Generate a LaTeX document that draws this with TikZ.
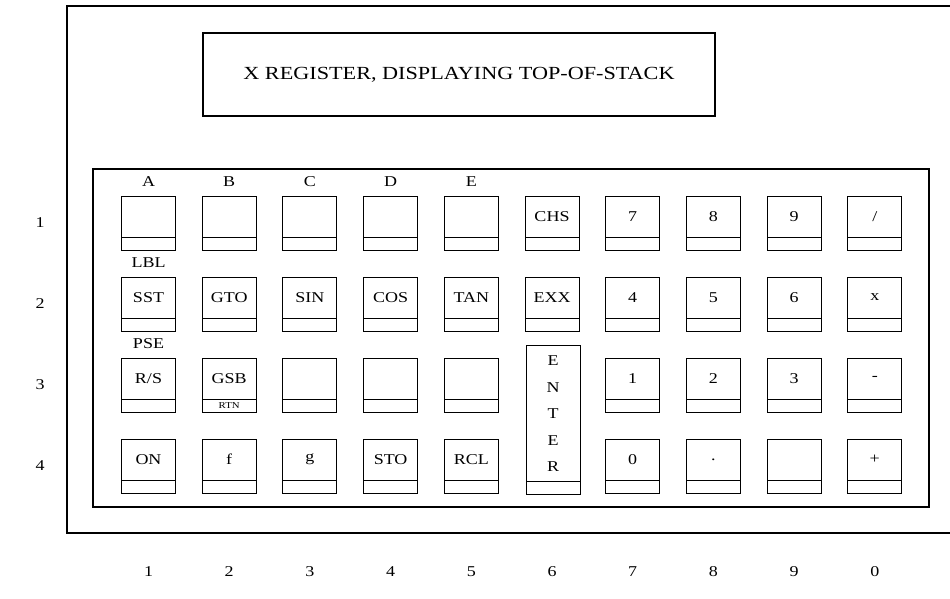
\documentclass[tikz,border=0pt]{standalone}
\usepackage{fontspec}
\setmainfont{Liberation Serif}[FakeStretch=1.2]
\usepackage{tikz}

\begin{document}
\begin{tikzpicture}[x=1pt,y=-1pt,every node/.style={font=\fontsize{15}{17}\selectfont},
  key/.style={draw,line width=1pt,minimum width=54pt,minimum height=54pt,inner sep=0pt,
    path picture={\draw[line width=1pt] ([yshift=13pt]path picture bounding box.south west)
      -- ([yshift=13pt]path picture bounding box.south east);}},
  keylbl/.style={yshift=6.5pt,inner sep=0pt},
  frame/.style={draw,line width=1.8pt,inner sep=0pt}]
  \useasboundingbox (0,0) rectangle (950,599);
  % case, cut off at the right
  \draw[line width=1.8pt] (951,6) -- (67,6) -- (67,533) -- (951,533);
  \node[frame,minimum width=512pt,minimum height=83pt,font=\fontsize{18.5}{20}\selectfont]
    (xreg) at (459,74.5) {X REGISTER, DISPLAYING TOP-OF-STACK};
  \node[frame,minimum width=836pt,minimum height=338pt] (pad) at (511,338) {};
  % keys, row by row
  \foreach \t [count=\c] in {{},{},{},{},{},CHS,7,8,9,/}
    \node[key,label={[keylbl]center:\t}] (k1\c) at ({148.5+80.7*(\c-1)},223) {};
  \foreach \t [count=\c] in {SST,GTO,SIN,COS,TAN,EXX,4,5,6,x}
    \node[key,label={[keylbl]center:\t}] (k2\c) at ({148.5+80.7*(\c-1)},304) {};
  \foreach \t [count=\c] in {R/S,GSB,{},{},{}}
    \node[key,label={[keylbl]center:\t}] (k3\c) at ({148.5+80.7*(\c-1)},385) {};
  \foreach \t [count=\c from 7] in {1,2,3,-}
    \node[key,label={[keylbl]center:\t}] (k3\c) at ({148.5+80.7*(\c-1)},385) {};
  \foreach \t [count=\c] in {ON,f,g,STO,RCL}
    \node[key,label={[keylbl]center:\t}] (k4\c) at ({148.5+80.7*(\c-1)},466) {};
  \foreach \t [count=\c from 7] in {0,.,{},+}
    \node[key,label={[keylbl]center:\t}] (k4\c) at ({148.5+80.7*(\c-1)},466) {};
  \node[key,minimum height=149pt,
    label={[keylbl,yshift=-1pt,align=center,font=\fontsize{15}{26.5}\selectfont]center:E\\N\\T\\E\\R}]
    (enter) at (553,419.5) {};
  \node[font=\fontsize{9}{10}\selectfont,inner sep=0pt] (rtn) at ([yshift=7pt]k32.south) {RTN};
  % shifted labels
  \foreach \t [count=\c] in {A,B,C,D,E}
    \node (top\c) at ({148.5+80.7*(\c-1)},182) {\t};
  \node (lbl) at (148.5,263) {LBL};
  \node (pse) at (148.5,344) {PSE};
  % row and column numbers
  \foreach \r in {1,...,4}
    \node (row\r) at (40,{223+81*(\r-1)}) {\r};
  \foreach \t [count=\c] in {1,2,3,4,5,6,7,8,9,0}
    \node (col\c) at ({148.5+80.7*(\c-1)},572) {\t};
\end{tikzpicture}
\end{document}
